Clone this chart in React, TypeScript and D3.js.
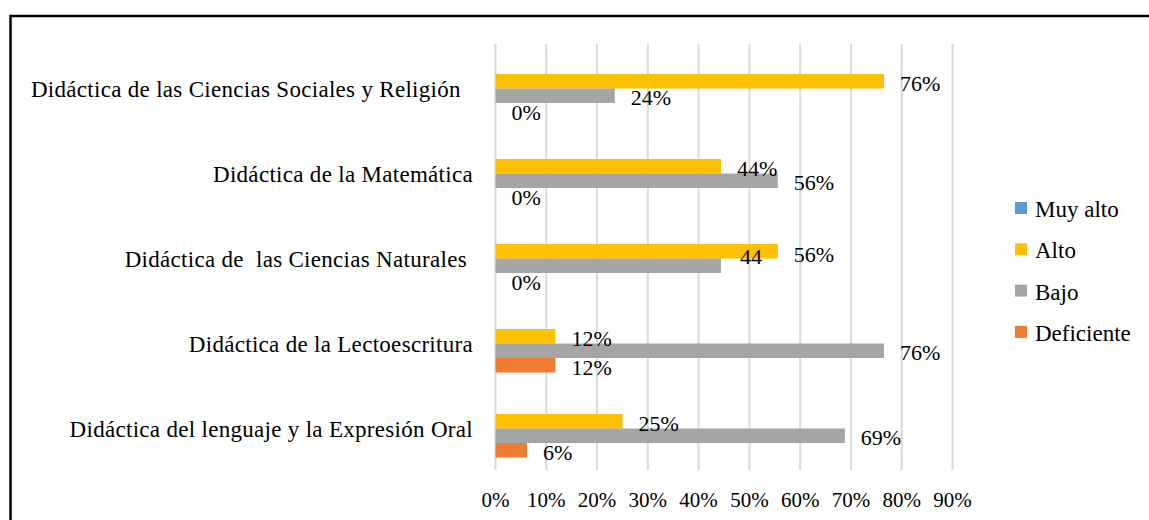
import React from "react";
import * as d3 from "d3";

const categories = [
  "Didáctica de las Ciencias Sociales y Religión  ",
  "Didáctica de la Matemática",
  "Didáctica de  las Ciencias Naturales ",
  "Didáctica de la Lectoescritura",
  "Didáctica del lenguaje y la Expresión Oral",
];
const seriesNames = ["Muy alto", "Alto", "Bajo", "Deficiente"];
const seriesColors = ["#5B9BD5", "#FFC000", "#A5A5A5", "#ED7D31"];

const muyAlto = [0, 0, 0, 0, 0];
const alto = [76.5, 44.4, 55.6, 11.8, 25];
const bajo = [23.5, 55.6, 44.4, 76.5, 68.8];
const deficiente = [0, 0, 0, 11.8, 6.2];

const muyAltoLabels: (string | null)[] = [null, null, null, null, null];
const altoLabels = ["76%", "44%", "56%", "12%", "25%"];
const bajoLabels = ["24%", "56%", "44", "76%", "69%"];
const deficienteLabels = ["0%", "0%", "0%", "12%", "6%"];

const xTicks = [0, 10, 20, 30, 40, 50, 60, 70, 80, 90];

const W = 1149;
const H = 520;
const FONT = "'Liberation Serif', 'Times New Roman', serif";

export default function App() {
  const x = d3.scaleLinear().domain([0, 90]).range([495.5, 952.5]);
  const y = d3.scaleBand<string>().domain(categories).range([46, 471]).padding(0);
  const y1 = d3
    .scaleBand<string>()
    .domain(seriesNames)
    .range([0, y.bandwidth()])
    .paddingInner(0)
    .paddingOuter(0.93);

  const values = [muyAlto, alto, bajo, deficiente];
  const labels = [muyAltoLabels, altoLabels, bajoLabels, deficienteLabels];

  const labelShift = (ci: number, si: number) => {
    if (ci === 2 && si === 2) return { dx: 3, dy: -9 };
    if (ci === 2 && si === 1) return { dx: 0, dy: 3 };
    return { dx: 0, dy: 2 };
  };

  return (
    <svg
      width={W}
      height={H}
      style={{ position: "absolute", left: 0, top: 0, display: "block", background: "#fff" }}
    >
      <rect x={0} y={0} width={W} height={H} fill="#fff" />
      <rect x={10.5} y={16} width={W + 20} height={H + 20} fill="none" stroke="#000" strokeWidth={2.5} />

      {/* gridlines */}
      {xTicks.map((t) => (
        <line
          key={"g" + t}
          x1={x(t)}
          x2={x(t)}
          y1={44}
          y2={470}
          stroke="#D9D9D9"
          strokeWidth={2}
        />
      ))}

      {/* bars */}
      {categories.map((c, ci) =>
        seriesNames.map((s, si) => {
          const v = values[si][ci];
          const by = (y(c) as number) + (y1(s) as number);
          return (
            <rect
              key={c + s}
              x={x(0)}
              y={by}
              width={Math.max(0, x(v) - x(0))}
              height={y1.bandwidth()}
              fill={seriesColors[si]}
            />
          );
        })
      )}

      {/* data labels */}
      {categories.map((c, ci) =>
        seriesNames.map((s, si) => {
          const lab = labels[si][ci];
          if (!lab) return null;
          const v = values[si][ci];
          const by = (y(c) as number) + (y1(s) as number) + y1.bandwidth() / 2;
          const sh = labelShift(ci, si);
          return (
            <text
              key={"l" + c + s}
              x={x(v) + 16 + sh.dx}
              y={by + sh.dy}
              dy="0.35em"
              fontFamily={FONT}
              fontSize={22}
              fill="#000"
            >
              {lab}
            </text>
          );
        })
      )}

      {/* category labels */}
      {categories.map((c) => (
        <text
          key={"c" + c}
          x={473}
          y={(y(c) as number) + y.bandwidth() / 2}
          dy="0.35em"
          textAnchor="end"
          fontFamily={FONT}
          fontSize={23}
          letterSpacing={0.3}
          fill="#000"
          style={{ whiteSpace: "pre" }}
        >
          {c}
        </text>
      ))}

      {/* x tick labels */}
      {xTicks.map((t) => (
        <text
          key={"t" + t}
          x={x(t)}
          y={500}
          dy="0.35em"
          textAnchor="middle"
          fontFamily={FONT}
          fontSize={21}
          fill="#000"
        >
          {t + "%"}
        </text>
      ))}

      {/* legend */}
      {seriesNames.map((s, i) => (
        <g key={"lg" + s} transform={`translate(1015, ${202 + i * 41.3})`}>
          <rect x={0} y={0} width={12} height={12} fill={seriesColors[i]} />
          <text x={20} y={7} dy="0.35em" fontFamily={FONT} fontSize={23} fill="#000">
            {s}
          </text>
        </g>
      ))}
    </svg>
  );
}
